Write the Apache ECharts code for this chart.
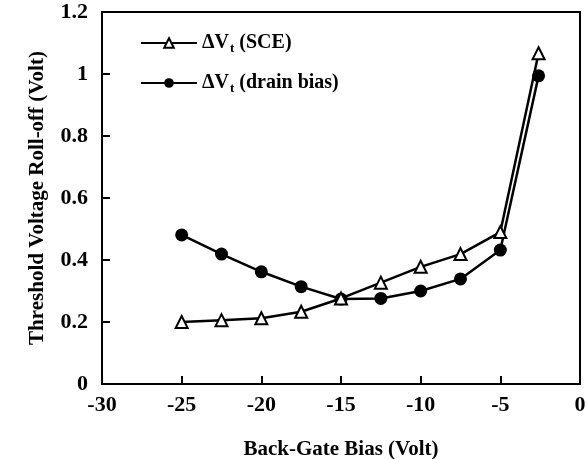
<!DOCTYPE html>
<html>
<head>
<meta charset="utf-8">
<script src="https://cdn.jsdelivr.net/npm/echarts@6/dist/echarts.min.js"></script>
<style>
  html, body { margin: 0; padding: 0; background: #fff; }
  #chart { width: 588px; height: 459px; }
</style>
</head>
<body>
<div id="chart"></div>
<script>
const backGateBias = [-25, -22.5, -20, -17.5, -15, -12.5, -10, -7.5, -5, -2.6]
const dvtSce = [0.2, 0.206, 0.212, 0.233, 0.276, 0.327, 0.378, 0.419, 0.49, 1.067]
const dvtDrain = [0.481, 0.419, 0.362, 0.314, 0.274, 0.276, 0.3, 0.339, 0.432, 0.994]

const serif = 'Liberation Serif'
const pairs = (xs, ys) => xs.map((x, i) => [x, ys[i]])

// 上边框和右边框：只画轴线
const frameAxis = {
  axisLine: { show: true, onZero: false, lineStyle: { color: '#000', width: 2 } },
  axisTick: { show: false },
  axisLabel: { show: false },
  splitLine: { show: false },
}

const chart = echarts.init(document.getElementById('chart'))
chart.setOption({
  animation: false,
  backgroundColor: '#fff',
  grid: {
    left: 102,
    right: 8,
    top: 12,
    bottom: 75,
    outerBoundsMode: 'none',
    containLabel: false,
  },
  legend: {
    orient: 'vertical',
    left: 135,
    top: 28,
    itemWidth: 56,
    itemHeight: 12,
    itemGap: 18,
    textStyle: {
      fontFamily: serif,
      fontSize: 20,
      color: '#000',
      rich: {
        a: { fontFamily: serif, fontSize: 20, fontWeight: 'bold', color: '#000' },
        s: { fontFamily: serif, fontSize: 13, fontWeight: 'bold', color: '#000', padding: [11, 0, 0, 1] },
      },
    },
    formatter: (name) => name === 'sce'
      ? '{a|ΔV}{s|t}{a| (SCE)}'
      : '{a|ΔV}{s|t}{a| (drain bias)}',
    data: ['sce', 'drain'],
  },
  xAxis: [
    {
      type: 'value',
      min: -30,
      max: 0,
      interval: 5,
      name: 'Back-Gate Bias (Volt)',
      nameLocation: 'middle',
      nameGap: 55,
      nameTextStyle: { fontFamily: serif, fontSize: 21, fontWeight: 'bold', color: '#000' },
      axisLine: { onZero: false, lineStyle: { color: '#000', width: 2 } },
      axisTick: { inside: true, length: 8, lineStyle: { color: '#000', width: 2 } },
      axisLabel: { fontFamily: serif, fontSize: 22, fontWeight: 'bold', color: '#000', margin: 10 },
      splitLine: { show: false },
    },
    { type: 'value', min: -30, max: 0, position: 'top', ...frameAxis },
  ],
  yAxis: [
    {
      type: 'value',
      min: 0,
      max: 1.2,
      interval: 0.2,
      name: 'Threshold Voltage Roll-off (Volt)',
      nameLocation: 'middle',
      nameGap: 54,
      nameTextStyle: { fontFamily: serif, fontSize: 21, fontWeight: 'bold', color: '#000' },
      axisLine: { onZero: false, lineStyle: { color: '#000', width: 2 } },
      axisTick: { inside: true, length: 8, lineStyle: { color: '#000', width: 2 } },
      axisLabel: { fontFamily: serif, fontSize: 22, fontWeight: 'bold', color: '#000', margin: 14 },
      splitLine: { show: false },
    },
    { type: 'value', min: 0, max: 1.2, position: 'right', ...frameAxis },
  ],
  series: [
    {
      name: 'sce',
      type: 'line',
      data: pairs(backGateBias, dvtSce),
      symbol: 'triangle',
      symbolSize: 12,
      lineStyle: { color: '#000', width: 2.5 },
      itemStyle: { color: '#fff', borderColor: '#000', borderWidth: 2 },
      z: 3,
    },
    {
      name: 'drain',
      type: 'line',
      data: pairs(backGateBias, dvtDrain),
      symbol: 'circle',
      symbolSize: 13,
      lineStyle: { color: '#000', width: 2.5 },
      itemStyle: { color: '#000' },
      z: 2,
    },
  ],
})
</script>
</body>
</html>
